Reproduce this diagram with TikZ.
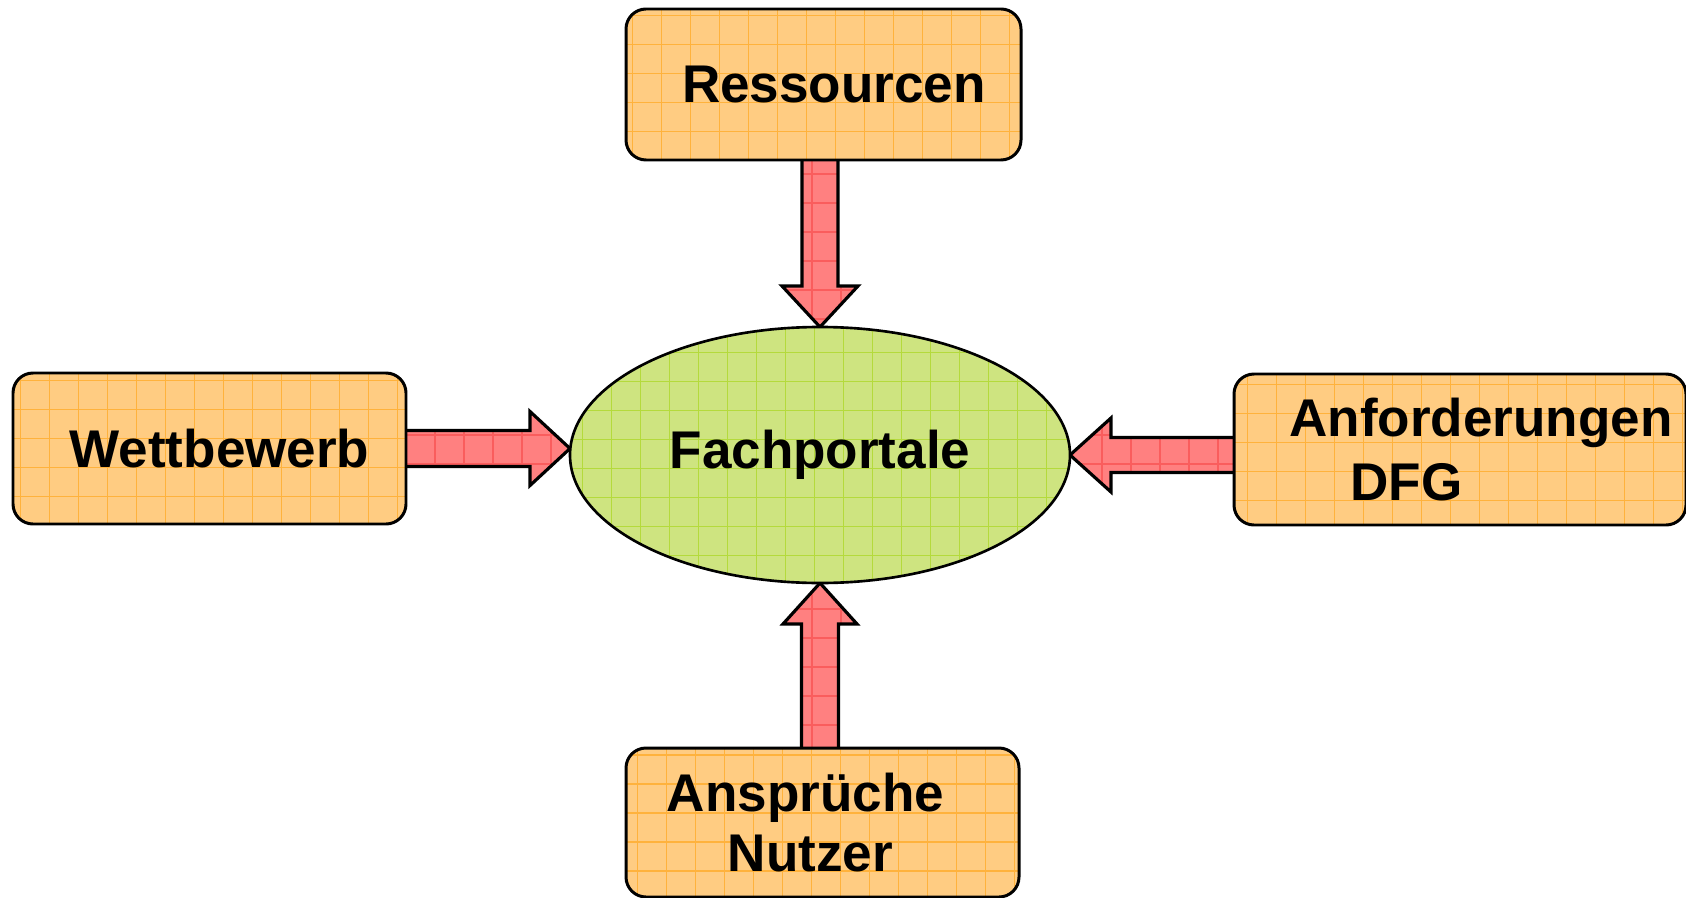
\documentclass[tikz,border=0pt]{standalone}
\usepackage{fontspec}
\setmainfont{Liberation Sans}
\usetikzlibrary{shapes.geometric,calc,backgrounds}

\definecolor{boxfill}{RGB}{255,204,130}
\definecolor{boxgrid}{RGB}{255,178,60}
\definecolor{portalfill}{RGB}{206,228,128}
\definecolor{portalgrid}{RGB}{180,218,60}
\definecolor{arrowfill}{RGB}{255,128,128}
\definecolor{arrowgrid}{RGB}{248,70,70}

\begin{document}
\begin{tikzpicture}[
    sourcebox/.style={
        rectangle,
        rounded corners=0.2cm,
        draw,
        line width=0.85pt,
        fill=boxfill,
        minimum width=3.93cm,
        minimum height=1.51cm,
        inner sep=0pt,
        outer sep=0pt,
        font=\fontsize{15.1pt}{18.2pt}\selectfont\bfseries,
        path picture={\draw[boxgrid, line width=0.3pt]
            (path picture bounding box.south west) grid[step=0.29cm]
            (path picture bounding box.north east);}
    },
    portal/.style={
        ellipse,
        draw,
        line width=0.75pt,
        fill=portalfill,
        minimum width=5cm,
        minimum height=2.56cm,
        inner sep=0pt,
        outer sep=0pt,
        font=\fontsize{15.1pt}{18.2pt}\selectfont\bfseries,
        path picture={\draw[portalgrid, line width=0.3pt]
            (path picture bounding box.south west) grid[step=0.29cm]
            (path picture bounding box.north east);}
    },
    blockarrow/.style={
        draw,
        line width=0.9pt,
        line join=miter,
        fill=arrowfill,
        path picture={\draw[arrowgrid, line width=0.3pt, opacity=0.6]
            (path picture bounding box.south west) grid[step=0.29cm]
            (path picture bounding box.north east);}
    }
]
\useasboundingbox (0,0) rectangle (16.86,-8.98);

% Nodes
\node[portal] (fach) at (8.20,-4.55) {Fachportale};

\node[sourcebox, minimum width=3.95cm] (res) at (8.235,-0.845) {\hspace*{0.21cm}Ressourcen};
\node[sourcebox] (wett) at (2.095,-4.485) {\hspace*{0.20cm}Wettbewerb};
\node[sourcebox, minimum width=4.52cm, align=left] (anf) at (14.60,-4.495)
    {\hspace*{0.42cm}Anforderungen\\\hspace*{1.03cm}DFG};
\node[sourcebox, minimum height=1.49cm, align=left,
    font=\fontsize{15.1pt}{16.8pt}\selectfont\bfseries] (nutz) at (8.225,-8.225)
    {Ansprüche\hspace*{0.34cm}\\\hspace*{0.61cm}Nutzer};

% Arrows
\begin{scope}[on background layer]
\draw[blockarrow] ($(fach.north |- res.south)+(-0.18,0)$) -- ($(fach.north)+(-0.18,0.41)$)
    -- ++(-0.20,0) -- (fach.north) -- ++(0.38,0.41) -- ++(-0.20,0)
    -- ($(fach.north |- res.south)+(0.18,0)$);
\draw[blockarrow] ($(wett.east)+(0,0.18)$) -- ($(fach.west |- wett.east)+(-0.40,0.18)$)
    -- ++(0,0.19) -- (fach.west |- wett.east) -- ++(-0.40,-0.37) -- ++(0,0.19)
    -- ($(wett.east)+(0,-0.18)$);
\draw[blockarrow] ($(anf.west |- fach.east)+(0,0.175)$) -- ($(fach.east)+(0.41,0.175)$)
    -- ++(0,0.195) -- (fach.east) -- ++(0.41,-0.37) -- ++(0,0.195)
    -- ($(anf.west |- fach.east)+(0,-0.175)$);
\draw[blockarrow] ($(fach.south |- nutz.north)+(-0.185,0)$) -- ($(fach.south)+(-0.185,-0.41)$)
    -- ++(-0.185,0) -- (fach.south) -- ++(0.37,-0.41) -- ++(-0.185,0)
    -- ($(fach.south |- nutz.north)+(0.185,0)$);
\end{scope}

\end{tikzpicture}
\end{document}
